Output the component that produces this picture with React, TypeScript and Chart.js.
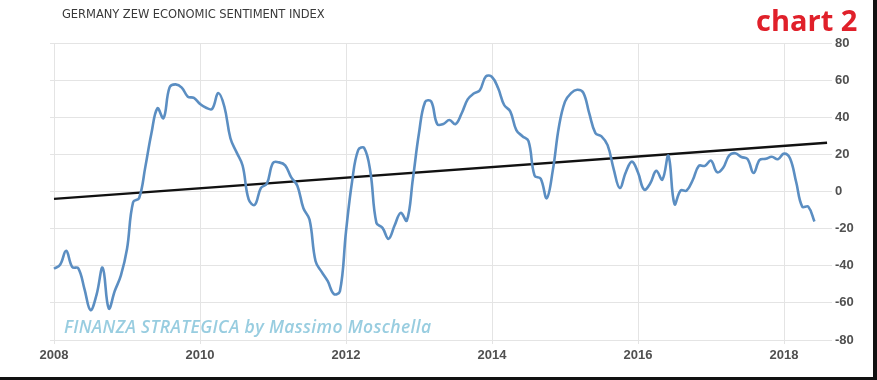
import React, { useEffect, useRef } from "react";
import { Chart, registerables } from "chart.js";

Chart.register(...registerables);

// Monthly ZEW economic sentiment values, Jan..Dec each year
const values2008 = [-41.6, -39.5, -32.0, -40.7, -41.4, -52.4, -63.9, -55.5, -41.1, -63.0, -53.5, -45.2];
const values2009 = [-31.0, -5.8, -3.5, 13.0, 31.1, 44.8, 39.5, 56.1, 57.7, 56.0, 51.1, 50.4];
const values2010 = [47.2, 45.1, 44.5, 53.0, 45.8, 28.7, 21.2, 14.0, -4.3, -7.2, 1.8, 4.3];
const values2011 = [15.4, 15.7, 14.1, 7.6, 3.1, -9.0, -15.1, -37.6, -43.3, -48.3, -55.2, -53.8];
const values2012 = [-21.6, 5.4, 22.3, 23.4, 10.8, -16.9, -19.6, -25.5, -18.2, -11.5, -15.7, 6.9];
const values2013 = [31.5, 48.2, 48.5, 36.3, 36.4, 38.5, 36.3, 42.0, 49.6, 52.8, 54.6, 62.0];
const values2014 = [61.7, 55.7, 46.6, 43.2, 33.1, 29.8, 27.1, 8.6, 6.9, -3.6, 11.5, 34.9];
const values2015 = [48.4, 53.0, 54.8, 53.3, 41.9, 31.5, 29.7, 25.0, 12.1, 1.9, 10.4, 16.1];
const values2016 = [10.2, 1.0, 4.3, 11.2, 6.4, 19.2, -6.8, 0.5, 0.5, 6.2, 13.8, 13.8];
const values2017 = [16.6, 10.4, 12.8, 19.5, 20.6, 18.6, 17.5, 10.0, 17.0, 17.6, 18.7, 17.4];
const values2018 = [20.4, 17.8, 5.1, -8.2, -8.2, -16.1];

const startYear = 2008;
const yearlyValues = [values2008, values2009, values2010, values2011, values2012, values2013, values2014, values2015, values2016, values2017, values2018];

// Trend line end points (year, value)
const trendX = [2008.0, 2018.59];
const trendY = [-4.0, 26.3];

const xTickYears = [2008, 2010, 2012, 2014, 2016, 2018];
const yTicks = [-80, -60, -40, -20, 0, 20, 40, 60, 80];

const titleText = "GERMANY ZEW ECONOMIC SENTIMENT INDEX";
const badgeText = "chart 2";
const watermarkText = "FINANZA STRATEGICA by Massimo Moschella";

export default function App() {
  const canvasRef = useRef<HTMLCanvasElement | null>(null);

  useEffect(() => {
    const canvas = canvasRef.current;
    if (!canvas) return;
    const points: { x: number; y: number }[] = [];
    yearlyValues.forEach((arr, yi) => {
      arr.forEach((v, mi) => points.push({ x: startYear + yi + mi / 12, y: v }));
    });
    const trend = trendX.map((x, i) => ({ x, y: trendY[i] }));
    const tickFont = { family: "'Liberation Sans', Arial, sans-serif", size: 13, weight: "bold" as const };

    const chart = new Chart(canvas, {
      type: "line",
      data: {
        datasets: [
          {
            data: points,
            borderColor: "#5b8ec2",
            borderWidth: 2.6,
            pointRadius: 0,
            tension: 0.4,
            fill: false,
          },
          {
            data: trend,
            borderColor: "#111111",
            borderWidth: 2.4,
            pointRadius: 0,
            tension: 0,
            fill: false,
          },
        ],
      },
      options: {
        responsive: false,
        animation: false,
        layout: { padding: { left: 50, top: 43, right: 4, bottom: 0 } },
        plugins: { legend: { display: false }, tooltip: { enabled: false } },
        scales: {
          x: {
            type: "linear",
            min: 2008 - 4 / 73,
            max: 2008 - 4 / 73 + 778 / 73,
            afterBuildTicks: (scale: any) => {
              scale.ticks = xTickYears.map((v) => ({ value: v }));
            },
            afterFit: (scale: any) => {
              scale.height = 40;
            },
            grid: { color: "#e4e4e4", lineWidth: 1, tickLength: 4 },
            border: { display: false },
            ticks: {
              autoSkip: false,
              maxRotation: 0,
              padding: 4,
              color: "#505050",
              font: tickFont,
              callback: (v: any) => String(v),
            },
          },
          y: {
            position: "right",
            min: -80,
            max: 80,
            afterBuildTicks: (scale: any) => {
              scale.ticks = yTicks.map((v) => ({ value: v }));
            },
            afterFit: (scale: any) => {
              scale.width = 45;
            },
            grid: { color: "#e4e4e4", lineWidth: 1, tickLength: 4 },
            border: { display: false },
            ticks: {
              padding: 3,
              color: "#505050",
              font: tickFont,
              callback: (v: any) => String(v),
            },
          },
        },
      },
    });
    return () => chart.destroy();
  }, []);

  return (
    <div style={{ position: "absolute", left: 0, top: 0, width: 877, height: 380, background: "#ffffff", overflow: "hidden" }}>
      <canvas ref={canvasRef} width={877} height={380} style={{ display: "block", position: "absolute", left: 0, top: 0 }} />
      <div
        style={{
          position: "absolute",
          left: 62,
          top: 7,
          fontFamily: "'DejaVu Sans', sans-serif",
          fontSize: 11.5,
          color: "#3a3a3a",
          whiteSpace: "nowrap",
          letterSpacing: "-0.05px",
        }}
      >
        {titleText}
      </div>
      <div
        style={{
          position: "absolute",
          left: 756,
          top: 2,
          fontFamily: "'Open Sans', sans-serif",
          fontWeight: 700,
          fontSize: 29,
          color: "#e0202a",
          whiteSpace: "nowrap",
          lineHeight: "36px",
        }}
      >
        {badgeText}
      </div>
      <div
        style={{
          position: "absolute",
          left: 64,
          top: 313,
          fontFamily: "'Open Sans', sans-serif",
          fontStyle: "italic",
          fontWeight: 600,
          fontSize: 17.5,
          letterSpacing: "0.35px",
          color: "#98cde0",
          whiteSpace: "nowrap",
          lineHeight: "26px",
        }}
      >
        {watermarkText}
      </div>
      <div style={{ position: "absolute", left: 873, top: 0, width: 4, height: 380, background: "#111" }} />
      <div style={{ position: "absolute", left: 0, top: 377, width: 877, height: 3, background: "#111" }} />
    </div>
  );
}
